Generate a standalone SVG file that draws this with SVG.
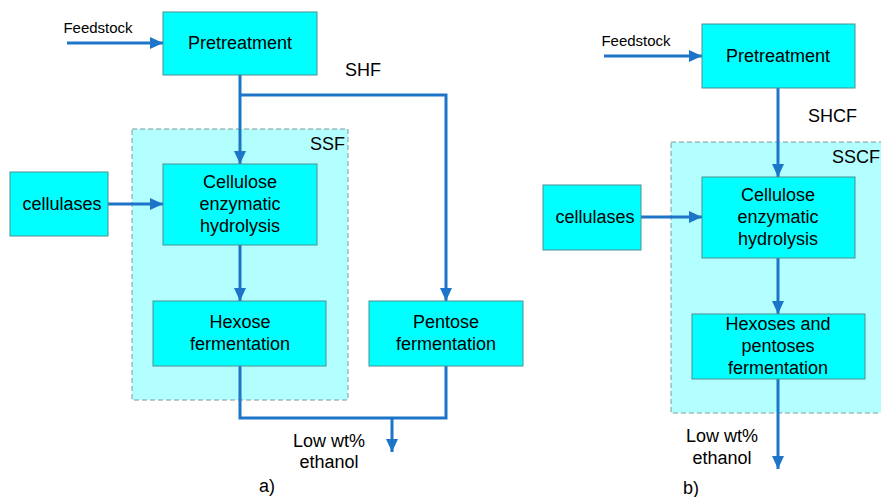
<svg xmlns="http://www.w3.org/2000/svg" width="881" height="497" viewBox="0 0 881 497">
<style>
.box{fill:#00ffff;stroke:#4f8f8f;stroke-width:1}
.region{fill:#b3ffff;stroke:#7f9a9a;stroke-width:1;stroke-dasharray:5,3}
.t{font-family:"Liberation Sans",Arial,sans-serif;font-size:18px;fill:#000;text-anchor:middle}
.s{font-family:"Liberation Sans",Arial,sans-serif;font-size:15px;fill:#000;text-anchor:middle}
.l{font-family:"Liberation Sans",Arial,sans-serif;font-size:18px;fill:#000}
.c{fill:none;stroke:#1c75c8;stroke-width:3}
</style>
<defs>
<marker id="ah" markerUnits="userSpaceOnUse" markerWidth="14" markerHeight="14" viewBox="0 0 14 14" refX="13" refY="7" orient="auto">
<path d="M0,1 L13,7 L0,13 Z" fill="#1c75c8"/>
</marker>
</defs>
<rect class="region" x="132" y="129" width="216" height="271"/>
<rect class="region" x="671" y="142" width="220" height="271"/>
<text class="l" x="310" y="150">SSF</text>
<text class="l" x="832" y="163">SSCF</text>
<g id="connectors">
<path class="c" d="M67,43 H163" marker-end="url(#ah)"/>
<path class="c" d="M240,75 V164" marker-end="url(#ah)"/>
<path class="c" d="M240,95 H446 V301" marker-end="url(#ah)"/>
<path class="c" d="M108,204 H163" marker-end="url(#ah)"/>
<path class="c" d="M240,245 V301" marker-end="url(#ah)"/>
<path class="c" d="M240,366 V418 H446 V366"/>
<path class="c" d="M392,418 V452" marker-end="url(#ah)"/>
<path class="c" d="M604,56 H702" marker-end="url(#ah)"/>
<path class="c" d="M778,88 V177" marker-end="url(#ah)"/>
<path class="c" d="M641,217 H702" marker-end="url(#ah)"/>
<path class="c" d="M778,258 V314" marker-end="url(#ah)"/>
<path class="c" d="M778,379 V469" marker-end="url(#ah)"/>
</g>
<g id="a-pretreatment"><rect class="box" x="163" y="12" width="154" height="63"/><text class="t" x="240" y="49">Pretreatment</text></g>
<g id="a-cellulases"><rect class="box" x="10" y="172" width="98" height="64"/><text class="t" x="62" y="210">cellulases</text></g>
<g id="a-cellulose"><rect class="box" x="163" y="164" width="154" height="81"/><text class="t" x="240" y="188">Cellulose</text><text class="t" x="240" y="210">enzymatic</text><text class="t" x="240" y="232">hydrolysis</text></g>
<g id="a-hexose"><rect class="box" x="153" y="301" width="173" height="65"/><text class="t" x="240" y="328">Hexose</text><text class="t" x="240" y="350">fermentation</text></g>
<g id="a-pentose"><rect class="box" x="369" y="301" width="154" height="65"/><text class="t" x="446" y="328">Pentose</text><text class="t" x="446" y="350">fermentation</text></g>
<g id="a-labels">
<text class="s" x="98" y="33">Feedstock</text>
<text class="l" x="345" y="76">SHF</text>
<text class="t" x="329" y="447">Low wt%</text>
<text class="t" x="329" y="468">ethanol</text>
<text class="t" x="267" y="492">a)</text>
</g>
<g id="b-pretreatment"><rect class="box" x="702" y="24" width="153" height="64"/><text class="t" x="778" y="62">Pretreatment</text></g>
<g id="b-cellulases"><rect class="box" x="543" y="185" width="98" height="65"/><text class="t" x="595" y="223">cellulases</text></g>
<g id="b-cellulose"><rect class="box" x="702" y="177" width="153" height="81"/><text class="t" x="778" y="201">Cellulose</text><text class="t" x="778" y="223">enzymatic</text><text class="t" x="778" y="245">hydrolysis</text></g>
<g id="b-hexoses"><rect class="box" x="692" y="314" width="173" height="65"/><text class="t" x="778" y="330">Hexoses and</text><text class="t" x="778" y="352">pentoses</text><text class="t" x="778" y="374">fermentation</text></g>
<g id="b-labels">
<text class="s" x="636" y="46">Feedstock</text>
<text class="l" x="808" y="122">SHCF</text>
<text class="t" x="722" y="442">Low wt%</text>
<text class="t" x="722" y="464">ethanol</text>
<text class="t" x="691" y="494">b)</text>
</g>
</svg>
